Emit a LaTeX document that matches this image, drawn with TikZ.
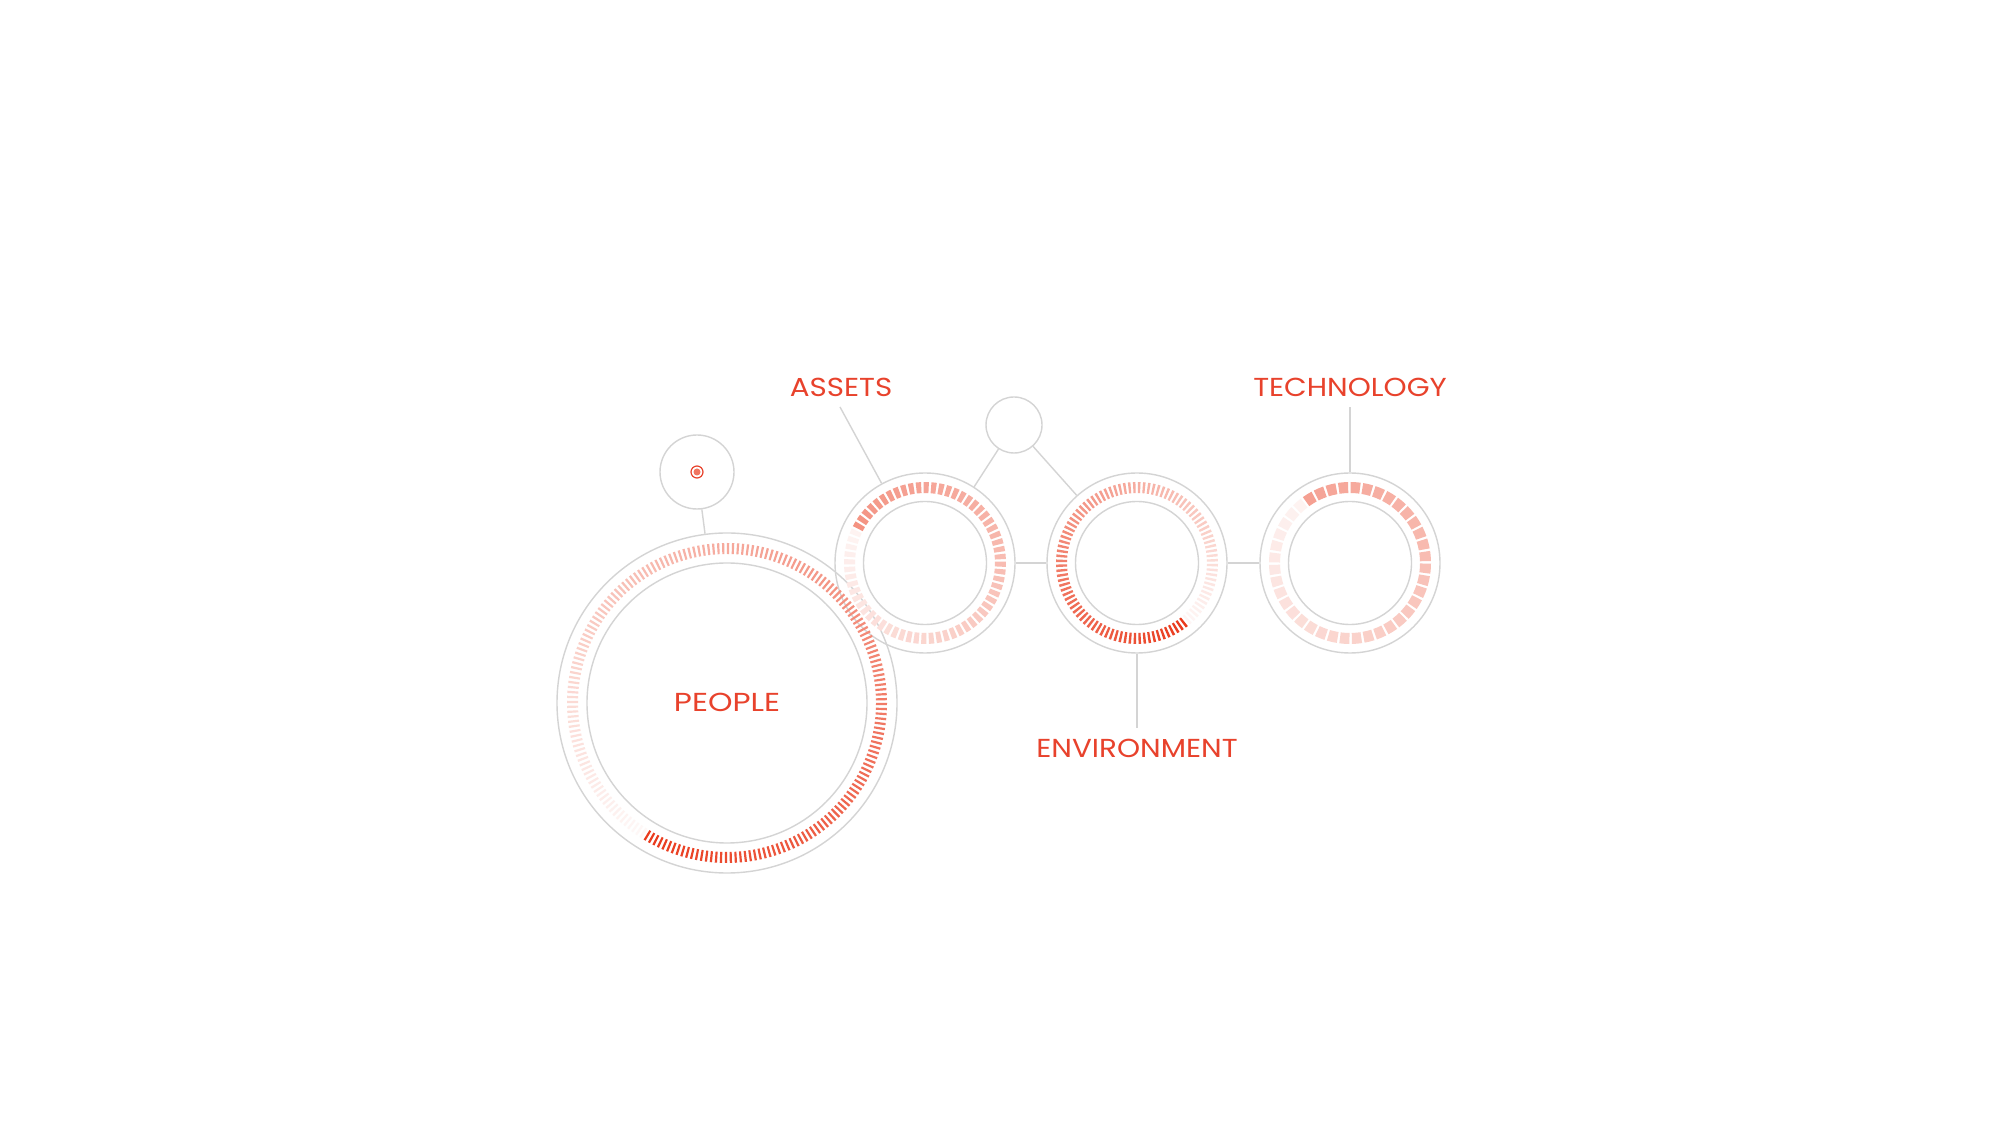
\documentclass[tikz,border=0pt]{standalone}
\usepackage{fontspec}
\setmainfont{Poppins}
\definecolor{tickred}{RGB}{234,58,28}
\definecolor{txtred}{RGB}{232,66,44}
\definecolor{ringgray}{RGB}{212,212,212}
\newcommand\myticks[9]{%
  \pgfmathtruncatemacro\nlast{#2-1}%
  \pgfmathsetmacro\stp{360/#2}%
  \pgfmathsetmacro\hw{#7*180/#2}%
  \foreach \i in {0,...,\nlast}{%
    \pgfmathsetmacro\ang{#3+#4*\i*\stp}%
    \pgfmathsetmacro\aa{\ang-\hw}%
    \pgfmathsetmacro\ab{\ang+\hw}%
    \pgfmathsetmacro\frac{\i/\nlast}%
    \pgfmathtruncatemacro\pc{#8+(#9-#8)*\frac}%
    \fill[tickred!\pc!white,shift={(#1)}] (\aa:#5) -- (\aa:#6) arc[start angle=\aa,end angle=\ab,radius=#6] -- (\ab:#5) arc[start angle=\ab,end angle=\aa,radius=#5] -- cycle;
  }}
\tikzset{
  ring/.style={circle,draw=ringgray,line width=1.4pt,inner sep=0pt,minimum size=#1},
  conn/.style={draw=ringgray,line width=1.4pt},
  lbl/.style={text=txtred,font=\fontsize{26}{30}\selectfont,inner sep=0pt,anchor=base,transform shape,xscale=#1},
  lbl/.default=1.13
}
\begin{document}
\begin{tikzpicture}[x=1pt,y=1pt]
\fill[white] (0,0) rectangle (2000,1125);
\useasboundingbox (0,0) rectangle (2000,1125);
% rings
\node[ring=340pt] (people) at (727,422) {};
\node[ring=280pt] (peoplein) at (727,422) {};
\node[ring=74pt] (psmall) at (697,653) {};
\node[ring=180pt] (assets) at (925,562) {};
\node[ring=123pt] (assetsin) at (925,562) {};
\node[ring=56pt] (tsmall) at (1014,700) {};
\node[ring=180pt] (env) at (1137,562) {};
\node[ring=123pt] (envin) at (1137,562) {};
\node[ring=180pt] (tech) at (1350,562) {};
\node[ring=123pt] (techin) at (1350,562) {};
% ticks
\myticks{727,422}{200}{239}{1}{149}{160}{0.45}{100}{4}
\myticks{925,562}{64}{151}{-1}{70}{81}{0.68}{55}{6}
\myticks{1137,562}{100}{-52}{-1}{70}{81}{0.5}{100}{5}
\myticks{1350,562}{40}{122}{-1}{70}{81}{0.8}{48}{6}
% small dot
\node[circle,draw=txtred,line width=1.2pt,minimum size=12pt,inner sep=0pt] (dotring) at (697,653) {};
\node[circle,fill=tickred!70!white,minimum size=7pt,inner sep=0pt] (dot) at (697,653) {};
% connectors
\coordinate (al) at (840,718);
\coordinate (el) at (1137,397);
\coordinate (tl) at (1350,718);
\draw[conn] (psmall) -- (people);
\draw[conn] (tsmall) -- (assets);
\draw[conn] (tsmall) -- (env);
\draw[conn] (assets.east) -- (env.west);
\draw[conn] (env.east) -- (tech.west);
\draw[conn] (al) -- (assets);
\draw[conn] (env.south) -- (el);
\draw[conn] (tech.north) -- (tl);
% labels
\node[lbl=1.2] (plabel) at (727,413) {PEOPLE};
\node[lbl] (alabel) at (841,728) {ASSETS};
\node[lbl] (elabel) at (1137,367) {ENVIRONMENT};
\node[lbl] (tlabel) at (1350,728) {TECHNOLOGY};
\end{tikzpicture}
\end{document}
